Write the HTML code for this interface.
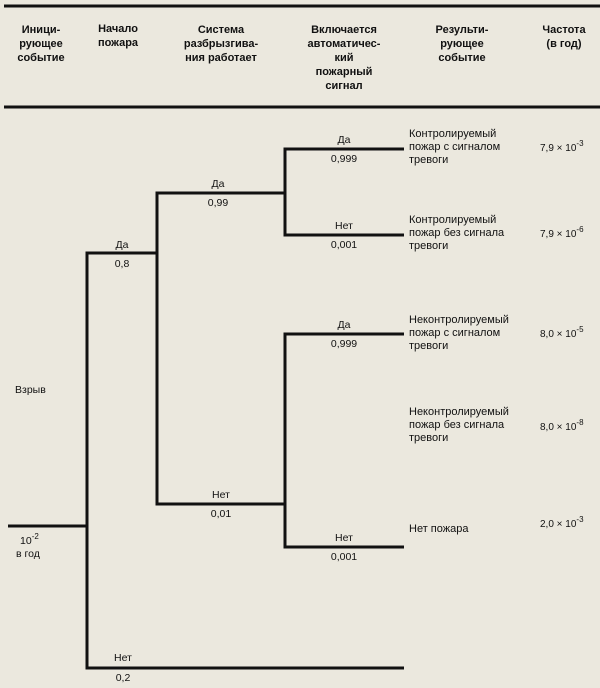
<!DOCTYPE html>
<html><head><meta charset="utf-8"><style>
html,body{margin:0;padding:0;background:#ebe8de;}
svg{display:block}
text{font-family:"Liberation Sans",Arial,sans-serif;fill:#111;}
.h{font-size:11px;font-weight:bold;}
.l{font-size:10.5px;}
.r{font-size:11px;}
.f{font-size:10px;}
</style></head><body>
<svg width="600" height="688" viewBox="0 0 600 688" xmlns="http://www.w3.org/2000/svg">
<rect width="600" height="688" fill="#ebe8de"/>
<g stroke="#111" stroke-width="3" fill="none">
<line x1="4" y1="6" x2="600" y2="6"/>
<line x1="4" y1="107" x2="600" y2="107"/>
<line x1="8" y1="526" x2="87" y2="526"/>
<polyline points="157,253 87,253 87,668 404,668"/>
<polyline points="285,193 157,193 157,504 285,504"/>
<polyline points="404,149 285,149 285,235 404,235"/>
<polyline points="404,334 285,334 285,547 404,547"/>
</g>
<g class="h" text-anchor="middle">
<text x="41" y="33">Иници-</text><text x="41" y="47">рующее</text><text x="41" y="61">событие</text>
<text x="118" y="32">Начало</text><text x="118" y="46">пожара</text>
<text x="221" y="33">Система</text><text x="221" y="47">разбрызгива-</text><text x="221" y="61">ния работает</text>
<text x="344" y="33">Включается</text><text x="344" y="47">автоматичес-</text><text x="344" y="61">кий</text><text x="344" y="75">пожарный</text><text x="344" y="89">сигнал</text>
<text x="462" y="33">Результи-</text><text x="462" y="47">рующее</text><text x="462" y="61">событие</text>
<text x="564" y="33">Частота</text><text x="564" y="47">(в год)</text>
</g>
<g class="l" text-anchor="middle">
<text x="122" y="248">Да</text><text x="122" y="267">0,8</text>
<text x="218" y="187">Да</text><text x="218" y="206">0,99</text>
<text x="221" y="498">Нет</text><text x="221" y="517">0,01</text>
<text x="344" y="143">Да</text><text x="344" y="162">0,999</text>
<text x="344" y="229">Нет</text><text x="344" y="248">0,001</text>
<text x="344" y="328">Да</text><text x="344" y="347">0,999</text>
<text x="344" y="541">Нет</text><text x="344" y="560">0,001</text>
<text x="123" y="661">Нет</text><text x="123" y="681">0,2</text>
</g>
<text class="l" x="15" y="393">Взрыв</text>
<text class="l" x="20" y="544">10<tspan dy="-5" font-size="8">-2</tspan></text>
<text class="l" x="16" y="557">в год</text>
<g class="r">
<text x="409" y="137">Контролируемый</text><text x="409" y="150">пожар с сигналом</text><text x="409" y="163">тревоги</text>
<text x="409" y="223">Контролируемый</text><text x="409" y="236">пожар без сигнала</text><text x="409" y="249">тревоги</text>
<text x="409" y="323">Неконтролируемый</text><text x="409" y="336">пожар с сигналом</text><text x="409" y="349">тревоги</text>
<text x="409" y="415">Неконтролируемый</text><text x="409" y="428">пожар без сигнала</text><text x="409" y="441">тревоги</text>
<text x="409" y="532">Нет пожара</text>
</g>
<g class="f">
<text x="540" y="151">7,9 × 10<tspan dy="-5" font-size="8">-3</tspan></text>
<text x="540" y="237">7,9 × 10<tspan dy="-5" font-size="8">-6</tspan></text>
<text x="540" y="337">8,0 × 10<tspan dy="-5" font-size="8">-5</tspan></text>
<text x="540" y="430">8,0 × 10<tspan dy="-5" font-size="8">-8</tspan></text>
<text x="540" y="527">2,0 × 10<tspan dy="-5" font-size="8">-3</tspan></text>
</g>
</svg>
</body></html>
